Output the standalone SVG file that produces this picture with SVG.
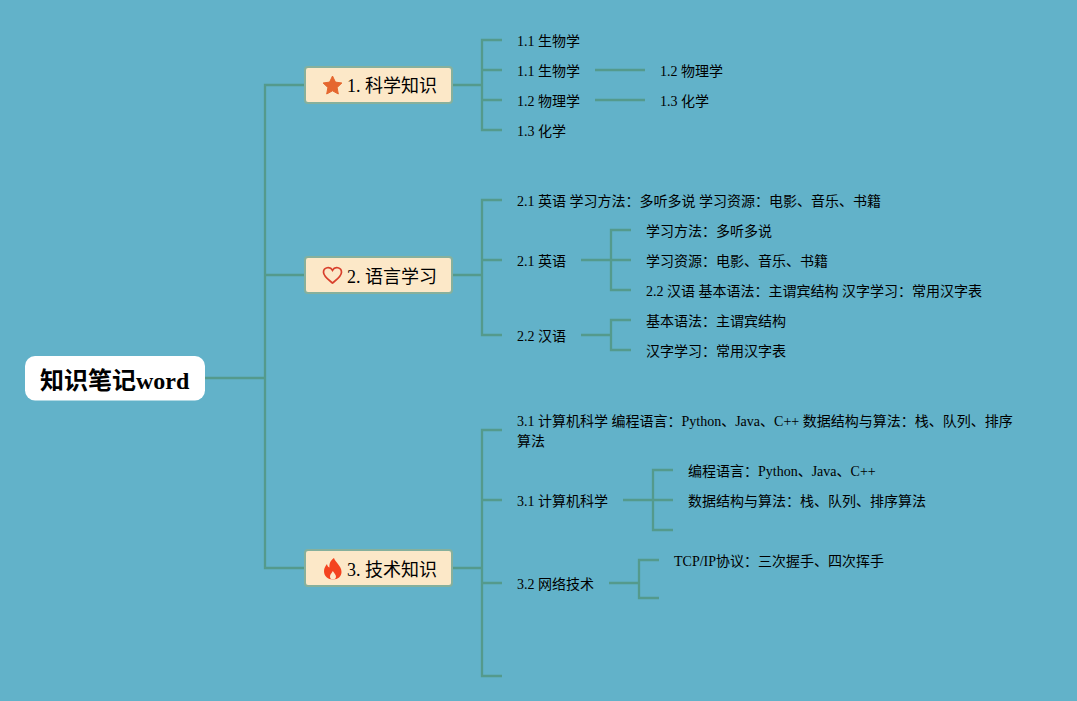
<svg xmlns="http://www.w3.org/2000/svg" width="1077" height="701" viewBox="0 0 1077 701">
<style>
text{font-family:"Liberation Serif","Noto Sans CJK SC",serif;fill:#000}
.t{font-size:14px}
.n{font-size:18px}
.r{font-size:24px;font-weight:bold}
.box{fill:#fce8c8;stroke:#86b09c;stroke-width:2}
#connectors path{fill:none;stroke:#549a8c;stroke-width:2.300}
</style>
<rect width="1077" height="701" fill="#62b2c9"/>
<g id="connectors">
<path d="M205 378H265M305 85H265V568H305"/>
<path d="M265 275H305"/>
<path d="M452 85H482M502 40H482V130H502M482 70H502M482 100H502"/>
<path d="M595 70H645M595 100H645"/>
<path d="M452 275H482M502 200H482V335H502M482 260H502"/>
<path d="M581 260H631M631 230H611V290H631"/>
<path d="M581 335H611M631 320H611V350H631"/>
<path d="M452 568H482M502 430H482V676H502M482 500H502M482 583H502"/>
<path d="M623 500H673M673 470H653V530H673"/>
<path d="M609 583H639M659 560H639V598H659"/>
</g>
<g id="root"><rect x="25" y="356" width="180" height="44.500" rx="10" fill="#fff"/><text class="r" x="40" y="389">知识笔记word</text></g>
<g id="node1"><rect class="box" x="305" y="67" width="147" height="36" rx="3"/>
<path d="M332.500 76l2.900 6.100 6.500.9-4.800 4.500 1.200 6.500-5.800-3.200-5.800 3.200 1.200-6.500-4.800-4.500 6.500-.9z" fill="#e5672f" stroke="#e5672f" stroke-linejoin="round"/>
<text class="n" x="347" y="92">1. 科学知识</text></g>
<g id="node2"><rect class="box" x="305" y="257" width="147" height="36" rx="3"/>
<path d="M332.500 283c-3-2.600-9-6.400-9-10.800 0-4.800 6.500-6.300 9-2 2.500-4.300 9-2.800 9 2 0 4.400-6 8.200-9 10.800z" fill="none" stroke="#d8402c" stroke-width="1.700"/>
<text class="n" x="347" y="283">2. 语言学习</text></g>
<g id="node3"><rect class="box" x="305" y="550" width="147" height="36" rx="3"/>
<path d="M334 558c1 4 7.500 8 7.500 14 0 4.500-3.500 7.500-8.500 7.500s-9-3-9-8.500c0-3 1.500-5 3-7 .3 2 1 3 2.500 3.500C329 563 331 560 334 558z" fill="#f4431f"/>
<path d="M333 579.500c-2 0-3-1.200-3-3 0-2 1.800-3.300 2.800-5.500 1.400 2.300 3.200 3.600 3.200 5.800 0 1.600-1.200 2.700-3 2.700z" fill="#fce8c8"/>
<text class="n" x="347" y="576">3. 技术知识</text></g>
<g id="leaf1">
<text class="t" x="517" y="46">1.1 生物学</text>
<text class="t" x="517" y="76">1.1 生物学</text>
<text class="t" x="660" y="76">1.2 物理学</text>
<text class="t" x="517" y="106">1.2 物理学</text>
<text class="t" x="660" y="106">1.3 化学</text>
<text class="t" x="517" y="136">1.3 化学</text>
</g>
<g id="leaf2">
<text class="t" x="517" y="206">2.1 英语 学习方法：多听多说 学习资源：电影、音乐、书籍</text>
<text class="t" x="517" y="266">2.1 英语</text>
<text class="t" x="646" y="236">学习方法：多听多说</text>
<text class="t" x="646" y="266">学习资源：电影、音乐、书籍</text>
<text class="t" x="646" y="296">2.2 汉语 基本语法：主谓宾结构 汉字学习：常用汉字表</text>
<text class="t" x="517" y="341">2.2 汉语</text>
<text class="t" x="646" y="326">基本语法：主谓宾结构</text>
<text class="t" x="646" y="356">汉字学习：常用汉字表</text>
</g>
<g id="leaf3">
<text class="t" x="517" y="426">3.1 计算机科学 编程语言：Python、Java、C++ 数据结构与算法：栈、队列、排序</text>
<text class="t" x="517" y="446">算法</text>
<text class="t" x="517" y="506">3.1 计算机科学</text>
<text class="t" x="688" y="476">编程语言：Python、Java、C++</text>
<text class="t" x="688" y="506">数据结构与算法：栈、队列、排序算法</text>
<text class="t" x="517" y="589">3.2 网络技术</text>
<text class="t" x="674" y="566">TCP/IP协议：三次握手、四次挥手</text>
</g>
</svg>
